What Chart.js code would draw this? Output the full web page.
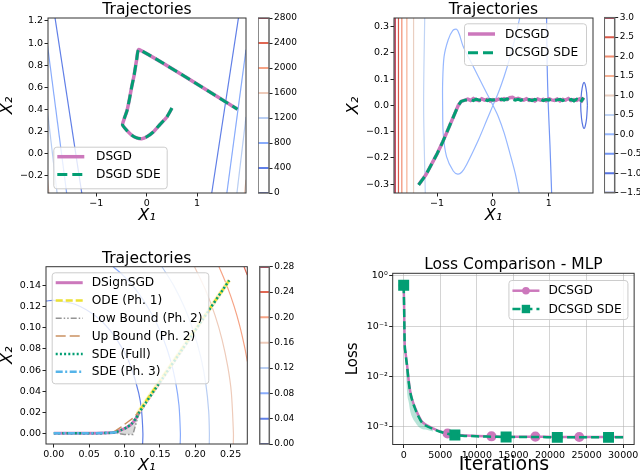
<!DOCTYPE html>
<html>
<head>
<meta charset="utf-8">
<script src="https://cdn.jsdelivr.net/npm/chart.js@4.4.1/dist/chart.umd.min.js"></script>
<style>
  html, body { margin: 0; padding: 0; background: #fff; }
  #fig { position: relative; width: 640px; height: 475px; overflow: hidden; }
  #fig canvas { position: absolute; }
</style>
</head>
<body>
<div id="fig">
  <canvas id="p1"></canvas><canvas id="cb1"></canvas>
  <canvas id="p2"></canvas><canvas id="cb2"></canvas>
  <canvas id="p3"></canvas><canvas id="cb3"></canvas>
  <canvas id="p4"></canvas>
</div>
<script>
// ---- panel 1 : DSGD on the valley ----
const p1XTicks = [-1, 0, 1]
const p1YTicks = [-0.2, 0, 0.2, 0.4, 0.6, 0.8, 1.0, 1.2]
const dsgdX = [0.50, 0.40, 0.26, 0.12, 0.0, -0.10, -0.20, -0.30, -0.40, -0.48, -0.45, -0.39, -0.34, -0.30, -0.25, -0.20, -0.15, 1.80]
const dsgdY = [0.41, 0.33, 0.26, 0.19, 0.15, 0.133, 0.14, 0.165, 0.21, 0.257, 0.31, 0.39, 0.50, 0.60, 0.71, 0.85, 0.94, 0.40]
const dsgdSdeX = [0.50, 0.40, 0.26, 0.12, 0.0, -0.10, -0.20, -0.30, -0.40, -0.48, -0.45, -0.39, -0.34, -0.30, -0.25, -0.20, -0.15, 1.80]
const dsgdSdeY = [0.41, 0.33, 0.26, 0.19, 0.15, 0.133, 0.14, 0.165, 0.21, 0.257, 0.31, 0.39, 0.50, 0.60, 0.71, 0.85, 0.94, 0.40]
// contour lines, [x, y] pairs, keyed by level
const p1Contours = [
  { level: 400, pts: [[-1.82, 1.227], [-1.29, -0.36]] },
  { level: 400, pts: [[1.29, -0.36], [1.82, 1.227]] },
  { level: 800, pts: [[-1.97, 0.98], [-1.59, -0.36]] },
  { level: 800, pts: [[1.59, -0.36], [1.97, 0.94]] },
  { level: 1200, pts: [[-1.97, 0.38], [-1.78, -0.36]] },
  { level: 1200, pts: [[1.79, -0.36], [1.97, 0.33]] },
  { level: 1600, pts: [[-1.97, -0.24], [-1.94, -0.36]] },
  { level: 1600, pts: [[1.94, -0.36], [1.97, -0.24]] }
]
const cb1Levels = [0, 400, 800, 1200, 1600, 2000, 2400, 2800]

// ---- panel 2 : DCSGD ----
const p2XTicks = [-1, 0, 1]
const p2YTicks = [-0.3, -0.2, -0.1, 0, 0.1, 0.2, 0.3]
const dcsgdX = [-1.33, -1.2, -1.1, -1.0, -0.9, -0.8, -0.7, -0.62, -0.57, -0.5,
  -0.45, -0.40, -0.35, -0.30, -0.25, -0.20, -0.15, -0.10, -0.05, 0.00, 0.05, 0.10, 0.15, 0.20,
  0.25, 0.30, 0.35, 0.40, 0.45, 0.50, 0.55, 0.60, 0.65, 0.70, 0.75, 0.80, 0.85, 0.90, 0.95,
  1.00, 1.05, 1.10, 1.15, 1.20, 1.25, 1.30, 1.35, 1.40, 1.45, 1.50, 1.55, 1.60,
  1.57, 1.62, 1.58, 1.61, 1.59]
const dcsgdY = [-0.303, -0.265, -0.225, -0.185, -0.14, -0.09, -0.04, 0.0, 0.015, 0.02,
  0.024, 0.019, 0.026, 0.021, 0.018, 0.025, 0.020, 0.023, 0.017, 0.022, 0.019, 0.024, 0.021, 0.026,
  0.022, 0.029, 0.031, 0.024, 0.027, 0.023, 0.020, 0.025, 0.019, 0.022, 0.017, 0.024, 0.020, 0.023, 0.018,
  0.025, 0.021, 0.019, 0.024, 0.017, 0.023, 0.020, 0.026, 0.018, 0.022, 0.019, 0.025, 0.021,
  0.012, 0.030, 0.014, 0.028, 0.018]
const dcsgdSdeY = [-0.303, -0.265, -0.225, -0.185, -0.14, -0.09, -0.04, 0.0, 0.015, 0.02,
  0.021, 0.023, 0.018, 0.024, 0.020, 0.019, 0.024, 0.018, 0.022, 0.020, 0.023, 0.019, 0.024, 0.020,
  0.025, 0.021, 0.024, 0.020, 0.023, 0.019, 0.024, 0.020, 0.022, 0.018, 0.023, 0.019, 0.024, 0.018, 0.022,
  0.020, 0.025, 0.018, 0.021, 0.023, 0.018, 0.024, 0.019, 0.023, 0.017, 0.024, 0.020, 0.022,
  0.013, 0.029, 0.016, 0.027, 0.020]
const p2Contours = [
  { level: 3.0, pts: [[-1.75, -0.34], [-1.75, 0.34]] },
  { level: 2.5, pts: [[-1.69, -0.34], [-1.69, 0.34]] },
  { level: 2.0, pts: [[-1.63, -0.34], [-1.63, 0.34]] },
  { level: 1.5, pts: [[-1.54, -0.34], [-1.54, 0.34]] },
  { level: 1.0, pts: [[-1.42, -0.34], [-1.42, 0.34]] },
  { level: 0.5, pts: [[-1.21, -0.34], [-1.24, 0.0], [-1.22, 0.34]] },
  { level: 0.0, pts: [[0.48, 0.334], [0.4, 0.26], [0.3, 0.18], [0.2, 0.11], [0.1, 0.05], [0, 0],
    [-0.11, -0.056], [-0.26, -0.132], [-0.47, -0.225], [-0.56, -0.255], [-0.63, -0.262], [-0.71, -0.25],
    [-0.83, -0.195], [-0.89, -0.106], [-0.90, 0], [-0.90, 0.083], [-0.875, 0.185], [-0.80, 0.25],
    [-0.72, 0.285], [-0.65, 0.29], [-0.60, 0.27], [-0.53, 0.223], [-0.35, 0.147], [-0.17, 0.071], [0, 0],
    [0.1, -0.045], [0.2, -0.105], [0.3, -0.18], [0.4, -0.26], [0.47, -0.334]] },
  { level: -0.5, pts: [[0.96, 0.334], [0.97, 0.15], [0.99, 0], [1.02, -0.15], [1.05, -0.334]] },
  { level: -1.0, pts: [[1.69, 0], [1.675, 0.05], [1.65, 0.08], [1.63, 0.088], [1.61, 0.08], [1.585, 0.05],
    [1.57, 0], [1.585, -0.05], [1.61, -0.08], [1.63, -0.088], [1.65, -0.08], [1.675, -0.05], [1.69, 0]] }
]
const cb2Levels = [-1.5, -1.0, -0.5, 0.0, 0.5, 1.0, 1.5, 2.0, 2.5, 3.0]

// ---- panel 3 : DSignSGD phases ----
const p3XTicks = [0, 0.05, 0.10, 0.15, 0.20, 0.25]
const p3YTicks = [0, 0.02, 0.04, 0.06, 0.08, 0.10, 0.12, 0.14]
const dsignX = [0, 0.02, 0.04, 0.06, 0.08, 0.087, 0.095, 0.103, 0.110, 0.116, 0.121, 0.150, 0.180, 0.210, 0.248]
const dsignY = [0, 0, 0, 0, 0.0005, 0.001, 0.003, 0.0055, 0.009, 0.014, 0.020, 0.0485, 0.078, 0.1075, 0.145]
const odeX = [0.248, 0.118]
const odeY = [0.145, 0.0185]
const lowX = [0.121, 0.117, 0.114, 0.112, 0.100, 0.090]
const lowY = [0.020, 0.011, 0.004, -0.001, -0.001, 0.0]
const lowBandX = [0.090, 0.100, 0.110, 0.121, 0.117, 0.113, 0.112, 0.095]
const lowBandY = [0.0, 0.003, 0.009, 0.020, 0.011, 0.002, -0.001, -0.001]
const upX = [0.084, 0.095, 0.105, 0.113, 0.121]
const upY = [0.001, 0.006, 0.011, 0.015, 0.021]
const sdeFullX = [0, 0.02, 0.04, 0.06, 0.08, 0.087, 0.095, 0.103, 0.110, 0.116, 0.121, 0.150, 0.180, 0.210, 0.248]
const sdeFullY = [0, 0, 0, 0, 0.0005, 0.001, 0.003, 0.0055, 0.009, 0.014, 0.020, 0.0485, 0.078, 0.1075, 0.145]
const sdePh3X = [0, 0.03, 0.06, 0.09]
const sdePh3Y = [0, 0, 0, 0.001]
const p3Contours = [
  { level: 0.04, pts: [[-0.011, 0.1255], [0, 0.126], [0.03, 0.1224], [0.06, 0.1108], [0.08, 0.0973], [0.1, 0.0767],
    [0.11, 0.0615], [0.12, 0.0384], [0.124, 0.0223], [0.126, 0], [0.1256, -0.0101]] },
  { level: 0.08, pts: [[0.084, 0.158], [0.1, 0.1485], [0.12, 0.1328], [0.14, 0.1115], [0.155, 0.0895], [0.165, 0.0694],
    [0.172, 0.0496], [0.177, 0.0267], [0.179, 0], [0.1787, -0.0101]] },
  { level: 0.12, pts: [[0.153, 0.158], [0.17, 0.1396], [0.185, 0.1191], [0.198, 0.0959], [0.208, 0.0717], [0.215, 0.0467],
    [0.219, 0.021], [0.22, 0], [0.2198, -0.0101]] },
  { level: 0.16, pts: [[0.199, 0.158], [0.215, 0.1353], [0.228, 0.1119], [0.238, 0.0887], [0.246, 0.0632], [0.251, 0.0389],
    [0.254, 0], [0.2538, -0.0101]] },
  { level: 0.20, pts: [[0.2336, 0.158], [0.245, 0.1396], [0.255, 0.1204], [0.263, 0.1017], [0.27, 0.0813], [0.2736, 0.0683]] },
  { level: 0.24, pts: [[0.269, 0.158], [0.2736, 0.15]] }
]
const cb3Levels = [0, 0.04, 0.08, 0.12, 0.16, 0.20, 0.24, 0.28]

// ---- panel 4 : loss curves ----
const lossIter = [0, 50, 130, 250, 460, 700, 900, 1200, 1600, 2000, 2500, 3000, 4000, 5000, 6000, 7000, 8000,
  10000, 12000, 14000, 16000, 18000, 21000, 24000, 28000, 30000]
const dcsgdLoss = [0.65, 0.30, 0.05, 0.030, 0.017, 0.008, 0.005, 0.0033, 0.0023, 0.0017, 0.00126, 0.0011, 0.00092,
  0.0008, 0.00073, 0.00069, 0.00067, 0.00065, 0.00064, 0.00063, 0.00063, 0.00063, 0.00062, 0.00062, 0.00062, 0.00062]
const dcsgdSdeLoss = [0.65, 0.29, 0.05, 0.029, 0.016, 0.0075, 0.0048, 0.0032, 0.0022, 0.0016, 0.0012, 0.00105, 0.0009,
  0.00079, 0.00072, 0.00068, 0.00066, 0.00064, 0.00063, 0.00062, 0.00062, 0.00062, 0.00061, 0.00061, 0.00061, 0.00061]
const bandIter = [250, 460, 700, 900, 1200, 1600, 2000, 2500, 3000, 4000]
const bandHigh = [0.03, 0.02, 0.01, 0.006, 0.0038, 0.0025, 0.0018, 0.0013, 0.0011, 0.00092]
const bandLow = [0.025, 0.005, 0.003, 0.002, 0.0015, 0.0012, 0.001, 0.0009, 0.00087, 0.0008]
const dcsgdMarks = [0, 6000, 12000, 18000, 24000]
const sdeMarks = [0, 7000, 14000, 21000, 28000]
const p4XTicks = [0, 5000, 10000, 15000, 20000, 25000, 30000]
const p4YTicks = [1e-3, 1e-2, 1e-1, 1]
const p4YLabels = ['10\u207b\u00b3', '10\u207b\u00b2', '10\u207b\u00b9', '10\u2070']

// coolwarm colours for each colorbar level
const cb1Colors = ['#3b4cc0', '#607fe7', '#89acfc', '#b9cef3', '#eecbba', '#f6a385', '#e06753', '#b40426']
const cb2Colors = ['#3b4cc0', '#5673e0', '#7396f5', '#97b8ff', '#c0d4f5', '#eacfc1', '#f6b194', '#f08c6f', '#d95848', '#b40426']
const cb3Colors = cb1Colors

const PINK = '#cc78bc', GREEN = '#029e73', YELLOW = '#ece133', GRAY = '#949494', TAN = '#ca9161', LBLUE = '#56b4e9'

Chart.defaults.font.family = '"DejaVu Sans", sans-serif'
Chart.defaults.color = '#000'

const minus = s => s.replace('-', '\u2212')
const fix = d => v => minus(Number(v).toFixed(d))
const xy = (xs, ys) => xs.map((x, i) => ({ x, y: ys[i] }))
const pairs = arr => arr.map(([x, y]) => ({ x, y }))

const framePlugin = {
  id: 'frame',
  afterDatasetsDraw(chart, args, o) {
    const { ctx, chartArea: a } = chart
    ctx.save()
    ctx.strokeStyle = o.color || '#333'
    ctx.lineWidth = o.width || 1
    ctx.strokeRect(a.left, a.top, a.right - a.left, a.bottom - a.top)
    ctx.restore()
  }
}

// panel title, plus an optional x label that is not centred under the axes
const titlePlugin = {
  id: 'panelTitle',
  afterDraw(chart, args, o) {
    const { ctx, chartArea: a } = chart
    ctx.save()
    ctx.fillStyle = '#000'
    ctx.textAlign = 'center'
    if (o.text) {
      ctx.font = '15.5px "DejaVu Sans"'
      ctx.textBaseline = 'alphabetic'
      ctx.fillText(o.text, (a.left + a.right) / 2, a.top - 4)
    }
    if (o.xLabel) {
      ctx.font = o.xLabel.size + 'px "DejaVu Sans"'
      ctx.textBaseline = 'middle'
      ctx.fillText(o.xLabel.text, (a.left + a.right) / 2 + o.xLabel.dx, a.bottom + o.xLabel.dy)
    }
    ctx.restore()
  }
}

function drawMarker(ctx, style, x, y, r, color) {
  ctx.fillStyle = color
  ctx.beginPath()
  if (style === 'rect') ctx.rect(x - r, y - r, 2 * r, 2 * r)
  else ctx.arc(x, y, r, 0, Math.PI * 2)
  ctx.fill()
}

const legendPlugin = {
  id: 'mplLegend',
  afterDraw(chart, args, o) {
    if (!o.corner) return
    const { ctx, chartArea: a } = chart
    const items = chart.data.datasets.filter(d => d.legendLabel)
    const left = o.corner.includes('left') ? a.left + o.dx : a.right - o.dx - o.w
    const top = o.corner.includes('upper') ? a.top + o.dy : a.bottom - o.dy - o.h
    ctx.save()
    ctx.beginPath()
    ctx.roundRect(left + 0.5, top + 0.5, o.w, o.h, 3)
    ctx.fillStyle = 'rgba(255,255,255,0.8)'
    ctx.fill()
    ctx.strokeStyle = '#cccccc'
    ctx.lineWidth = 1
    ctx.stroke()
    items.forEach((d, i) => {
      const y = top + o.first + i * o.row
      ctx.beginPath()
      ctx.strokeStyle = d.borderColor
      ctx.lineWidth = d.borderWidth
      ctx.setLineDash(d.borderDash || [])
      ctx.lineCap = 'butt'
      ctx.moveTo(left + 4, y)
      ctx.lineTo(left + 31, y)
      ctx.stroke()
      ctx.setLineDash([])
      if (d.legendMarker) drawMarker(ctx, d.legendMarker, left + 17.5, y, d.legendMarkerSize, d.borderColor)
      ctx.fillStyle = '#000'
      ctx.font = '12.2px "DejaVu Sans"'
      ctx.textAlign = 'left'
      ctx.textBaseline = 'middle'
      ctx.fillText(d.legendLabel, left + o.tx, y + 0.5)
    })
    ctx.restore()
  }
}

function place(id, box, area, yRight) {
  const c = document.getElementById(id)
  c.width = box.w
  c.height = box.h
  c.style.left = box.x + 'px'
  c.style.top = box.y + 'px'
  return {
    c,
    yW: yRight ? box.x + box.w - area.r : area.l - box.x,
    xH: box.y + box.h - area.b,
    padding: {
      top: area.t - box.y,
      left: yRight ? area.l - box.x : 0,
      right: yRight ? 0 : box.x + box.w - area.r,
      bottom: yRight ? box.y + box.h - area.b : 0
    }
  }
}

function axis(o) {
  return {
    type: o.type || 'linear', position: o.pos, min: o.min, max: o.max,
    afterBuildTicks: s => { s.ticks = o.ticks.map(v => ({ value: v })) },
    afterFit: s => { if (s.isHorizontal()) s.height = o.size; else s.width = o.size },
    grid: {
      drawOnChartArea: !!o.grid, color: o.grid || 'rgba(0,0,0,0)', lineWidth: 1,
      drawTicks: true, tickLength: 3.5, tickColor: '#222', tickWidth: 1
    },
    border: { display: false },
    ticks: { callback: o.fmt, font: { size: o.tickSize || 9.5 }, color: '#000', padding: 1.5, maxRotation: 0, autoSkip: false },
    title: o.label ? {
      display: true, text: o.label, color: '#000',
      font: { size: o.labelSize || 16, style: o.italic ? 'italic' : 'normal', lineHeight: 1 },
      padding: { top: o.pt || 0, bottom: o.pb || 0 }
    } : { display: false }
  }
}

function panel(id, box, area, cfg) {
  const p = place(id, box, area, false)
  const n = cfg.datasets.length
  return new Chart(p.c, {
    type: 'line',
    data: { datasets: cfg.datasets.map((d, i) => ({ pointRadius: 0, fill: false, tension: 0, ...d, order: n - i })) },
    plugins: [framePlugin, titlePlugin, legendPlugin],
    options: {
      responsive: false, animation: false, events: [],
      layout: { padding: p.padding, autoPadding: false },
      plugins: {
        legend: { display: false }, tooltip: { enabled: false },
        panelTitle: { text: cfg.title, xLabel: cfg.xLabel }, mplLegend: cfg.legend, frame: { color: '#333' }
      },
      scales: {
        x: axis({ ...cfg.x, pos: 'bottom', size: p.xH }),
        y: axis({ ...cfg.y, pos: 'left', size: p.yW })
      }
    }
  })
}

function colorbar(id, box, area, levels, colors, fmt) {
  const p = place(id, box, area, true)
  return new Chart(p.c, {
    type: 'line',
    data: { datasets: levels.map((v, i) => ({ data: [{ x: 0, y: v }, { x: 1, y: v }], borderColor: colors[i], borderWidth: 2, pointRadius: 0 })) },
    plugins: [framePlugin],
    options: {
      responsive: false, animation: false, events: [],
      layout: { padding: p.padding, autoPadding: false },
      plugins: { legend: { display: false }, tooltip: { enabled: false }, frame: { color: '#666', width: 1.5 } },
      scales: {
        x: { type: 'linear', min: 0, max: 1, display: false },
        y: axis({ pos: 'right', min: levels[0], max: levels[levels.length - 1], ticks: levels, fmt, size: p.yW, tickSize: 9 })
      }
    }
  })
}

const contourSets = (list, levels, colors, tension) => list.map(c => ({
  data: pairs(c.pts), borderColor: colors[levels.indexOf(c.level)], borderWidth: 1.2, tension
}))

// ---- top left ----
panel('p1', { x: 0, y: 0, w: 252, h: 240 }, { l: 48, t: 18, r: 246, b: 193 }, {
  title: 'Trajectories',
  x: { min: -1.96, max: 1.97, ticks: p1XTicks, fmt: fix(0), label: 'X\u2081', italic: true, pb: 16 },
  y: { min: -0.36, max: 1.227, ticks: p1YTicks, fmt: fix(1), label: 'X\u2082', italic: true, pt: 0 },
  legend: { corner: 'lower left', dx: 5.3, dy: 4.7, w: 113.4, h: 41.6, first: 10, row: 17.7, tx: 42.7 },
  datasets: [
    ...contourSets(p1Contours, cb1Levels, cb1Colors, 0),
    { data: xy(dsgdX, dsgdY), borderColor: PINK, borderWidth: 3.5, tension: 0.2, legendLabel: 'DSGD' },
    { data: xy(dsgdSdeX, dsgdSdeY), borderColor: GREEN, borderWidth: 3, borderDash: [10, 5], tension: 0.2, legendLabel: 'DSGD SDE' }
  ]
})
colorbar('cb1', { x: 258, y: 0, w: 40, h: 200 }, { l: 258, t: 18, r: 269, b: 193 }, cb1Levels, cb1Colors, fix(0))

// ---- top right ----
panel('p2', { x: 346, y: 0, w: 252, h: 240 }, { l: 394, t: 18, r: 593, b: 193 }, {
  title: 'Trajectories',
  x: { min: -1.77, max: 1.79, ticks: p2XTicks, fmt: fix(0), label: 'X\u2081', italic: true, pb: 16 },
  y: { min: -0.334, max: 0.333, ticks: p2YTicks, fmt: fix(1), label: 'X\u2082', italic: true, pt: 0 },
  legend: { corner: 'upper right', dx: 7, dy: 5.3, w: 122, h: 41.7, first: 10.7, row: 18.7, tx: 41 },
  datasets: [
    ...contourSets(p2Contours, cb2Levels, cb2Colors, 0.3),
    { data: xy(dcsgdX, dcsgdY), borderColor: PINK, borderWidth: 3.5, legendLabel: 'DCSGD' },
    { data: xy(dcsgdX, dcsgdSdeY), borderColor: GREEN, borderWidth: 3, borderDash: [10, 5], legendLabel: 'DCSGD SDE' }
  ]
})
colorbar('cb2', { x: 604, y: 0, w: 36, h: 200 }, { l: 604.3, t: 17.7, r: 614.7, b: 192.7 }, cb2Levels, cb2Colors, fix(1))

// ---- bottom left ----
panel('p3', { x: 0, y: 240, w: 252, h: 235 }, { l: 46, t: 266.7, r: 247.3, b: 444 }, {
  title: 'Trajectories',
  x: { min: -0.011, max: 0.2736, ticks: p3XTicks, fmt: fix(2), label: 'X\u2081', italic: true, pb: 1 },
  y: { min: -0.0101, max: 0.158, ticks: p3YTicks, fmt: fix(2), label: 'X\u2082', italic: true, pt: 0 },
  legend: { corner: 'upper left', dx: 5.7, dy: 5.6, w: 156.6, h: 111, first: 10.4, row: 17.8, tx: 40 },
  datasets: [
    ...contourSets(p3Contours, cb3Levels, cb3Colors, 0.3),
    { data: xy(lowBandX, lowBandY), borderWidth: 0, borderColor: 'rgba(0,0,0,0)', backgroundColor: 'rgba(148,148,148,0.35)', fill: 'shape' },
    { data: xy(dsignX, dsignY), borderColor: PINK, borderWidth: 3, tension: 0.2, legendLabel: 'DSignSGD' },
    { data: xy(odeX, odeY), borderColor: 'rgba(255,243,190,0.95)', borderWidth: 4 },
    { data: xy(odeX, odeY), borderColor: YELLOW, borderWidth: 2.5, borderDash: [7, 3], legendLabel: 'ODE (Ph. 1)' },
    { data: xy(lowX, lowY), borderColor: GRAY, borderWidth: 1.5, borderDash: [6, 2, 1.5, 2, 1.5, 2], legendLabel: 'Low Bound (Ph. 2)' },
    { data: xy(upX, upY), borderColor: TAN, borderWidth: 1.5, borderDash: [10, 4], legendLabel: 'Up Bound (Ph. 2)' },
    { data: xy(sdeFullX, sdeFullY), borderColor: GREEN, borderWidth: 2.5, borderDash: [2, 2.2], tension: 0.2, legendLabel: 'SDE (Full)' },
    { data: xy(sdePh3X, sdePh3Y), borderColor: LBLUE, borderWidth: 2.5, borderDash: [7, 2.5, 2, 2.5], legendLabel: 'SDE (Ph. 3)' }
  ]
})
colorbar('cb3', { x: 259, y: 240, w: 41, h: 235 }, { l: 259.7, t: 266.7, r: 269.3, b: 444 }, cb3Levels, cb3Colors, fix(2))

// ---- bottom right ----
panel('p4', { x: 344, y: 240, w: 296, h: 235 }, { l: 392.7, t: 273.3, r: 635, b: 444.5 }, {
  title: 'Loss Comparison - MLP',
  xLabel: { text: 'Iterations', size: 19, dx: -9.5, dy: 20.5 },
  x: { min: -1500, max: 31500, ticks: p4XTicks, fmt: v => String(v), grid: 'rgba(176,176,176,0.55)' },
  y: {
    type: 'logarithmic', min: 4.4e-4, max: 1.12, ticks: p4YTicks, label: 'Loss', labelSize: 15, pt: 1.5, grid: 'rgba(176,176,176,0.55)',
    fmt: v => p4YLabels[p4YTicks.findIndex(t => Math.abs(Math.log10(t) - Math.log10(v)) < 1e-6)]
  },
  legend: { corner: 'upper right', dx: 6.7, dy: 6.7, w: 119, h: 39, first: 10.7, row: 18.3, tx: 40 },
  datasets: [
    { data: xy(bandIter, bandHigh), borderWidth: 0, borderColor: 'rgba(0,0,0,0)', cubicInterpolationMode: 'monotone' },
    { data: xy(bandIter, bandLow), borderWidth: 0, borderColor: 'rgba(0,0,0,0)', backgroundColor: 'rgba(2,158,115,0.28)', fill: '-1', cubicInterpolationMode: 'monotone' },
    {
      data: xy(lossIter, dcsgdLoss), borderColor: PINK, borderWidth: 2.5, cubicInterpolationMode: 'monotone',
      pointStyle: 'circle', pointBackgroundColor: PINK, pointBorderColor: PINK,
      pointRadius: c => dcsgdMarks.includes(c.raw && c.raw.x) ? 3.8 : 0,
      legendLabel: 'DCSGD', legendMarker: 'circle', legendMarkerSize: 3.8
    },
    {
      data: xy(lossIter, dcsgdSdeLoss), borderColor: GREEN, borderWidth: 2.5, borderDash: [8, 4], cubicInterpolationMode: 'monotone',
      pointStyle: 'rect', pointBackgroundColor: GREEN, pointBorderColor: GREEN,
      pointRadius: c => sdeMarks.includes(c.raw && c.raw.x) ? 6 : 0,
      legendLabel: 'DCSGD SDE', legendMarker: 'rect', legendMarkerSize: 4.2
    }
  ]
})
</script>
</body>
</html>
